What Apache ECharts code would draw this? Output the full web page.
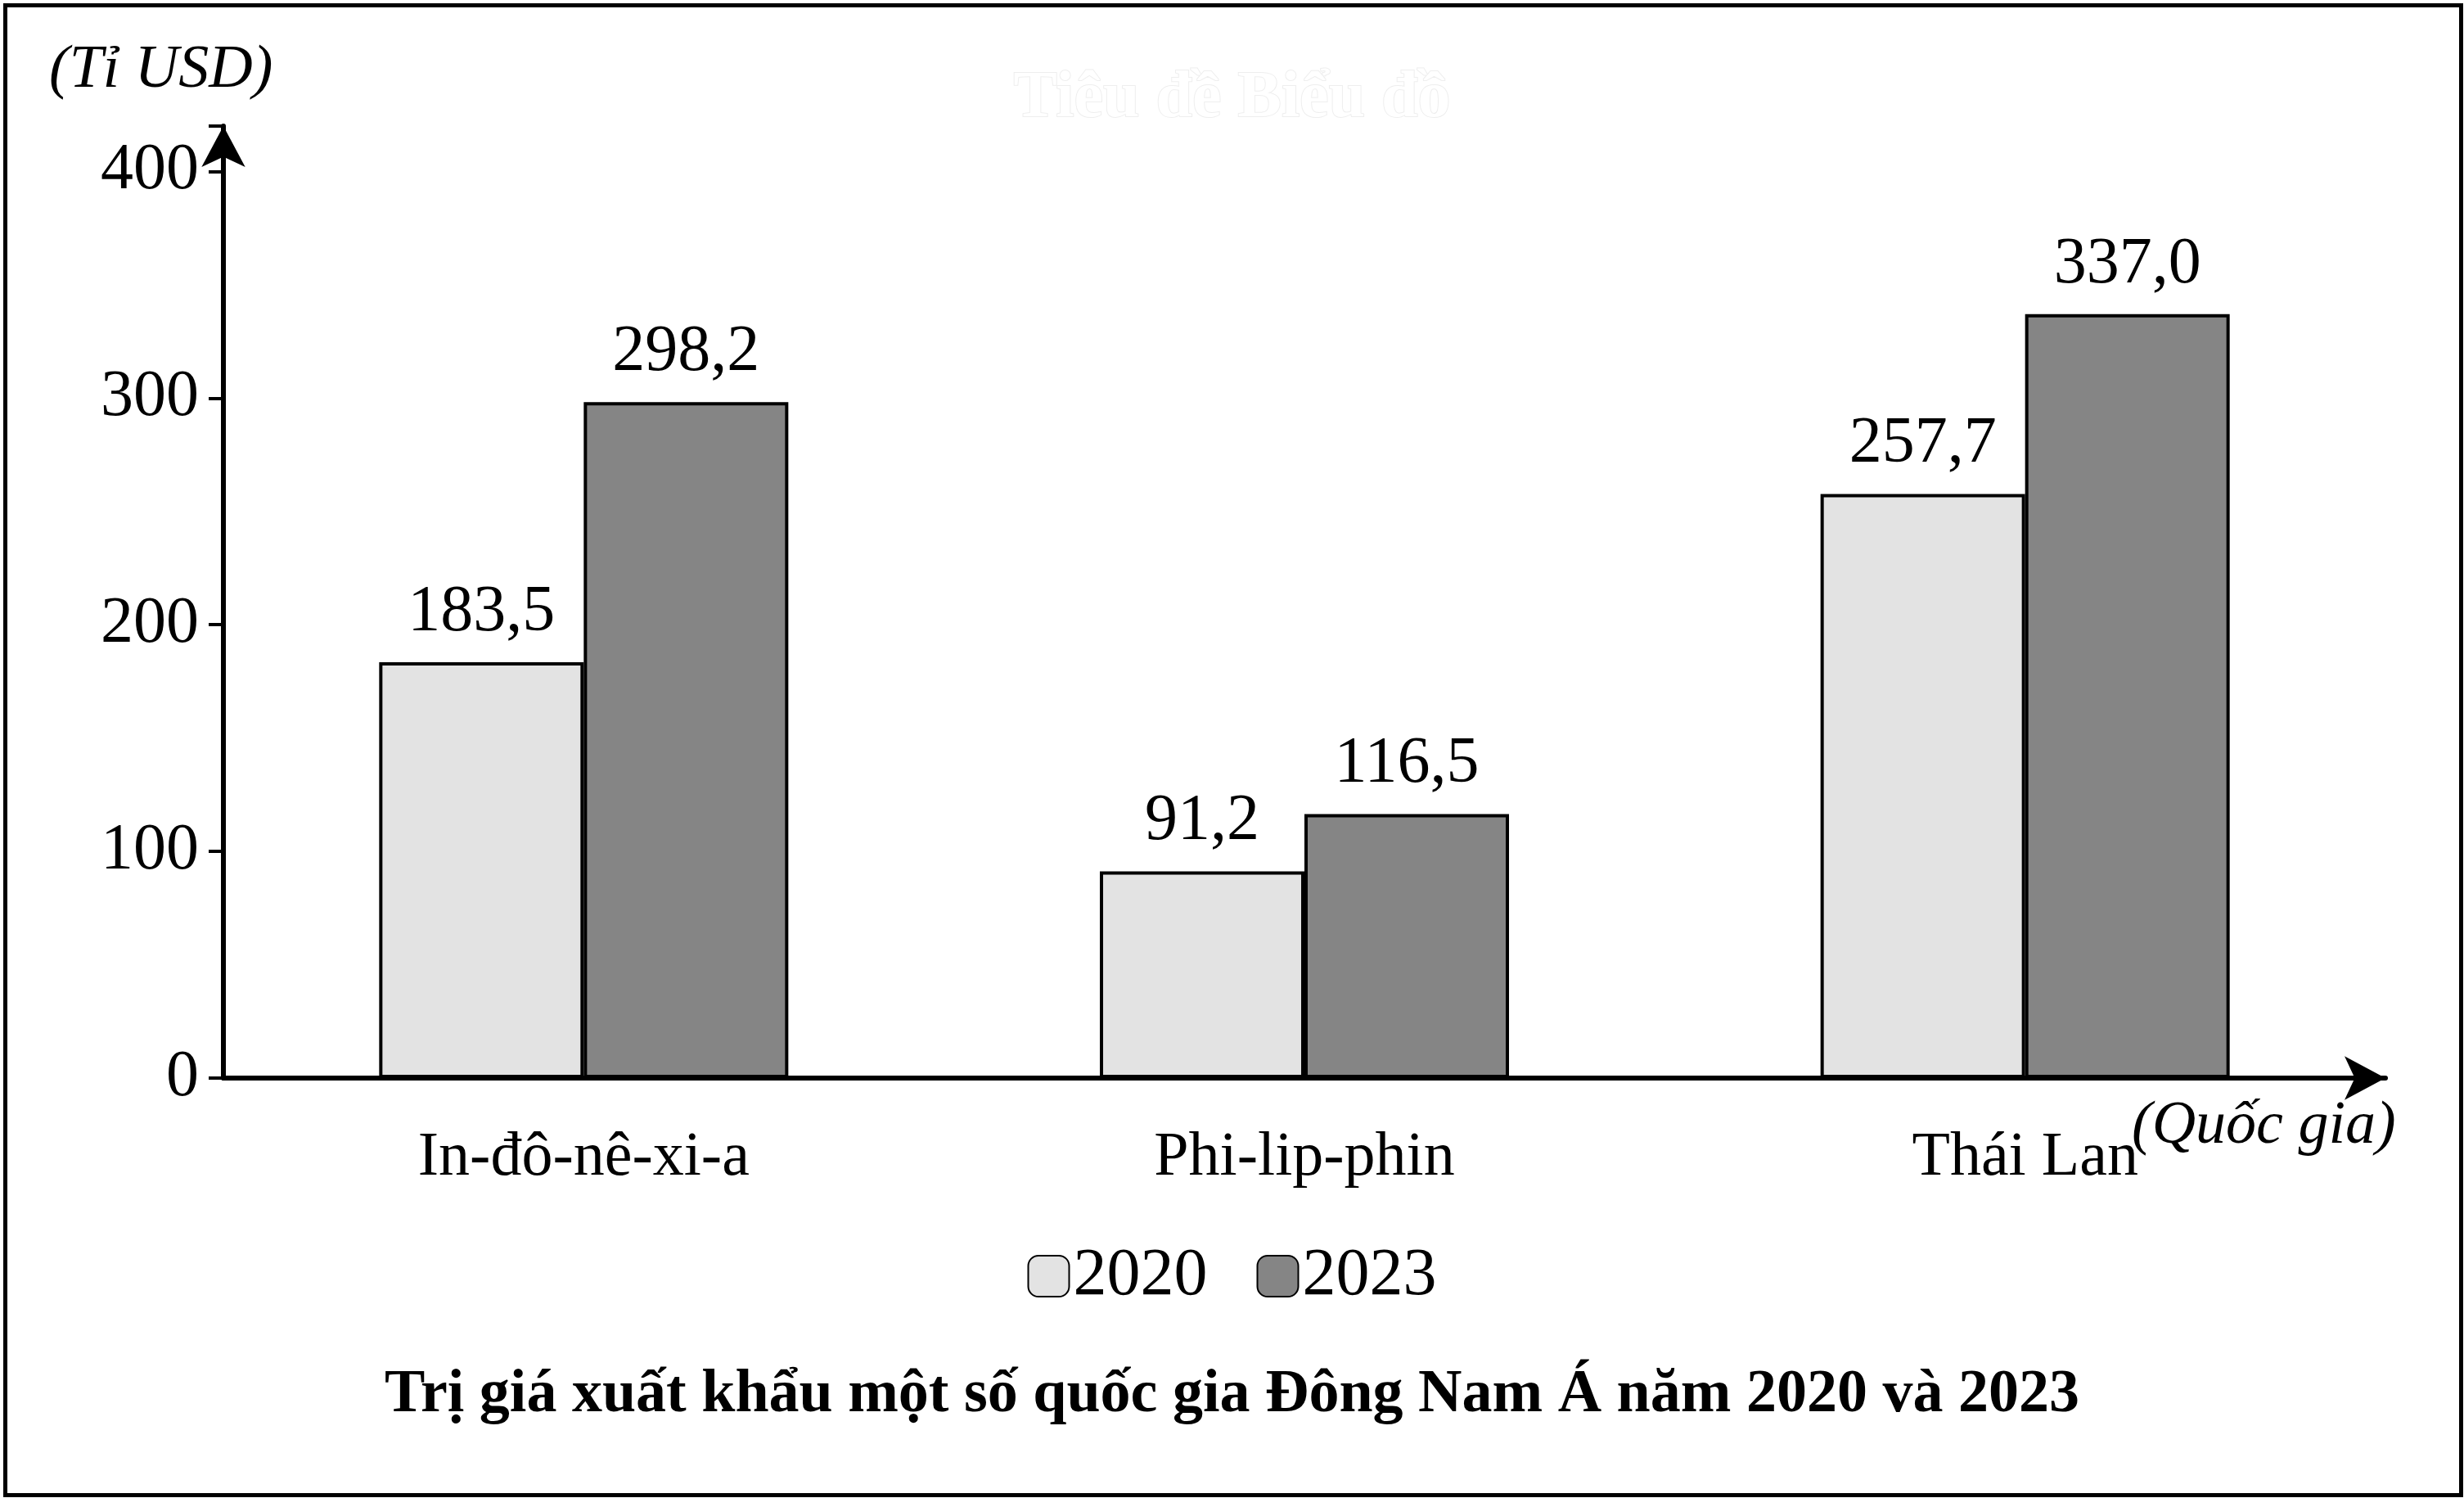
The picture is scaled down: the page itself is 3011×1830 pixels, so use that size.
<!DOCTYPE html>
<html>
<head>
<meta charset="utf-8">
<script src="https://cdn.jsdelivr.net/npm/echarts@6/dist/echarts.min.js"></script>
<style>html,body{margin:0;padding:0;background:#fff}#chart{width:3011px;height:1830px}</style>
</head>
<body>
<div id="chart"></div>
<script>
var categories = ['In-đô-nê-xi-a', 'Phi-lip-phin', 'Thái Lan'];
var years = ['2020', '2023'];
var values2020 = [183.5, 91.2, 257.7];
var values2023 = [298.2, 116.5, 337.0];
var yTicks = [0, 100, 200, 300, 400];

var font = 'Liberation Serif';
var chart = echarts.init(document.getElementById('chart'));

function fmt(v) { return v.toFixed(1).replace('.', ','); }

var barStyle = function(color) {
	return { color: color, borderColor: '#000', borderWidth: 4 };
};

var option = {
	backgroundColor: '#fff',
	animation: false,
	grid: { left: 273, right: 96, top: 154, bottom: 513 },
	legend: {
		data: years,
		bottom: 225,
		left: 'center',
		itemWidth: 50,
		itemHeight: 50,
		itemGap: 60,
		textStyle: { fontFamily: font, fontSize: 82, color: '#000' }
	},
	xAxis: {
		type: 'category',
		data: categories,
		axisLine: { lineStyle: { color: '#000', width: 6 }, symbol: ['none', 'arrow'], symbolSize: [40, 50] },
		axisTick: { show: false },
		axisLabel: { fontFamily: font, fontSize: 76, color: '#000', margin: 60 }
	},
	yAxis: {
		type: 'value',
		min: 0,
		max: 420,
		interval: 100,
		splitLine: { show: false },
		axisLine: { show: true, lineStyle: { color: '#000', width: 6 }, symbol: ['none', 'arrow'], symbolSize: [40, 50] },
		axisTick: { show: true, length: 18, lineStyle: { width: 4 } },
		axisLabel: {
			fontFamily: font, fontSize: 80, color: '#000', margin: 30,
			formatter: function(v) { return yTicks.indexOf(v) >= 0 ? v : ''; }
		}
	},
	series: [
		{
			name: years[0], type: 'bar', data: values2020, barWidth: 250, barGap: '0%',
			itemStyle: barStyle('#e3e3e3'),
			label: { show: true, position: 'top', distance: 20, fontFamily: font, fontSize: 80, color: '#000', formatter: function(p) { return fmt(p.value); } }
		},
		{
			name: years[1], type: 'bar', data: values2023, barWidth: 250,
			itemStyle: barStyle('#858585'),
			label: { show: true, position: 'top', distance: 20, fontFamily: font, fontSize: 80, color: '#000', formatter: function(p) { return fmt(p.value); } }
		}
	],
	graphic: [
		{ type: 'rect', left: 4, top: 4, shape: { width: 3001, height: 1820 }, style: { fill: 'none', stroke: '#000', lineWidth: 5 } },
		{ type: 'text', left: 60, top: 50, style: { text: '(Tỉ USD)', font: 'italic 74px "Liberation Serif"', fill: '#000' } },
		{ type: 'text', left: 2605, top: 1340, style: { text: '(Quốc gia)', font: 'italic 74px "Liberation Serif"', fill: '#000' } },
		{ type: 'text', left: 'center', top: 80, style: { text: 'Tiêu đề Biểu đồ', font: 'bold 80px "Liberation Serif"', fill: '#fff', stroke: '#eee', lineWidth: 2 } },
		{ type: 'text', left: 'center', top: 1668, style: { text: 'Trị giá xuất khẩu một số quốc gia Đông Nam Á năm 2020 và 2023', font: 'bold 74px "Liberation Serif"', fill: '#000' } }
	]
};
chart.setOption(option);
</script>
</body>
</html>
